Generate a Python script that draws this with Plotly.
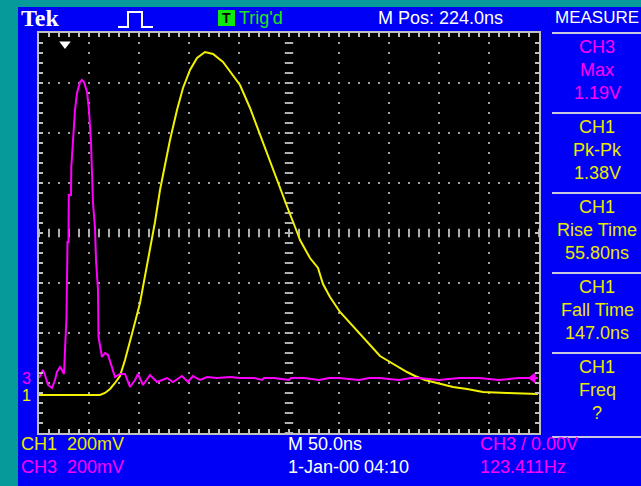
import numpy as np
import plotly.graph_objects as go

W, H = 641, 486

# ---- data (time in ns from left edge of graticule, volts) ----
ch1_t = [0, 21, 41, 61, 66, 71, 76, 81, 86, 91, 94, 101, 106, 111, 116, 121, 126, 131, 138, 144,
         151, 158, 166, 174, 184, 194, 201, 211, 221, 231, 241, 249, 258, 261, 271, 279, 284, 291,
         301, 311, 321, 331, 341, 351, 361, 368, 376, 386, 398, 414, 428, 444, 468, 499]
ch1_v = [0, 0, 0, 0, 0.008, 0.024, 0.048, 0.076, 0.14, 0.212, 0.26, 0.368, 0.472, 0.58, 0.692,
         0.82, 0.928, 1.02, 1.14, 1.228, 1.3, 1.348, 1.372, 1.364, 1.332, 1.276, 1.24, 1.148, 1.04,
         0.932, 0.832, 0.744, 0.652, 0.62, 0.548, 0.508, 0.444, 0.392, 0.332, 0.288, 0.24, 0.196,
         0.156, 0.132, 0.108, 0.092, 0.076, 0.06, 0.048, 0.032, 0.024, 0.012, 0.008, 0.004]

ch3_t = [0, 2, 4, 6, 9, 13, 16, 18, 21, 23, 25, 26, 27.5, 28.5, 29.5, 29.8, 32, 32.3, 34, 36, 38,
         41, 43, 45, 48, 50, 52, 53, 54, 56, 57, 59, 59.5, 63, 66, 69, 73, 76, 81, 86, 91, 96, 99,
         104, 111, 118, 128, 134, 143, 149, 154, 161, 168, 178, 191, 201, 215, 223, 225, 235, 250,
         252, 265, 280, 290, 300, 320, 330, 340, 360, 372, 380, 400, 420, 440, 460, 480, 499]
ch3_v = [0, 0.016, 0.032, 0.012, -0.028, -0.04, -0.008, 0.024, 0.044, 0.032, 0.016, 0.112, 0.244,
         0.544, 0.544, 0.732, 0.732, 0.844, 0.964, 1.072, 1.14, 1.184, 1.192, 1.184, 1.144, 1.072,
         0.94, 0.832, 0.7, 0.6, 0.472, 0.352, 0.164, 0.084, 0.1, 0.092, 0.044, 0.004, 0.016, 0.016,
         -0.036, -0.008, 0.016, -0.028, 0.012, -0.016, 0, -0.016, 0.008, -0.016, 0.008, -0.008,
         0.004, 0, 0.004, 0, 0, -0.008, 0, 0, -0.008, 0, 0, -0.008, 0, 0, -0.008, 0, 0, -0.008, 0,
         0, -0.008, 0, 0, -0.008, 0, 0]

ch1_vdiv, ch3_vdiv = 0.2, 0.2          # V/div
ch1_pos, ch3_pos = -3.24, -2.9         # ground position (div)
trig_t = 26                            # trigger marker position (ns from left)

top_texts = {"mpos": "M Pos: 224.0ns", "trig": "Trig'd", "measure": "MEASURE"}
measure = [("CH3", "Max", "1.19V", "#FF00FF"),
           ("CH1", "Pk-Pk", "1.38V", "#E8E800"),
           ("CH1", "Rise Time", "55.80ns", "#E8E800"),
           ("CH1", "Fall Time", "147.0ns", "#E8E800"),
           ("CH1", "Freq", "?", "#E8E800")]

YEL = "#F2F200"
MAG = "#FF00FF"
BLUE = "#0000F6"
TEAL = "#069A9A"
FONT = "Liberation Sans Narrow, Liberation Sans, sans-serif"

def px(x):
    return x / W

def py(y):
    return 1 - y / H

fig = go.Figure()

# graticule dots
gx, gy = [], []
for k in [1, 2, 3, 4, 6, 7, 8, 9]:
    for d in np.arange(-4, 4.001, 0.2):
        gx.append(50 * k); gy.append(d)
for k in [-3, -2, -1, 1, 2, 3]:
    for t in np.arange(0, 500.1, 10):
        gx.append(t); gy.append(k)
fig.add_trace(go.Scatter(x=gx, y=gy, mode="markers", hoverinfo="skip",
                         marker=dict(symbol="square", size=2, color="#A0A0A0", line=dict(width=0))))
# centre line dashes
cy = list(np.arange(-4, 4.001, 0.2))
fig.add_trace(go.Scatter(x=[250] * len(cy), y=cy, mode="markers", hoverinfo="skip",
                         marker=dict(symbol="line-ew", size=6, line=dict(width=2, color="#B0B0B0"))))
cx = list(np.arange(0, 500.1, 10))
fig.add_trace(go.Scatter(x=cx, y=[0] * len(cx), mode="markers", hoverinfo="skip",
                         marker=dict(symbol="line-ns", size=6, line=dict(width=2, color="#B0B0B0"))))

# traces
fig.add_trace(go.Scatter(x=ch1_t, y=[v / ch1_vdiv + ch1_pos for v in ch1_v], mode="lines",
                         line=dict(color=YEL, width=2), hoverinfo="skip"))
fig.add_trace(go.Scatter(x=ch3_t, y=[v / ch3_vdiv + ch3_pos for v in ch3_v], mode="lines",
                         line=dict(color=MAG, width=2), hoverinfo="skip"))

# markers: trigger pos, trigger level, ground refs
fig.add_trace(go.Scatter(x=[trig_t], y=[3.78], mode="markers", cliponaxis=False, hoverinfo="skip",
                         marker=dict(symbol="triangle-down", size=10, color="white", line=dict(width=0))))
fig.add_trace(go.Scatter(x=[494], y=[ch3_pos], mode="markers", cliponaxis=False, hoverinfo="skip",
                         marker=dict(symbol="triangle-left", size=10, color=MAG, line=dict(width=0))))
fig.add_trace(go.Scatter(x=[-4, -4], y=[ch1_pos, ch3_pos], mode="markers", cliponaxis=False,
                         hoverinfo="skip",
                         marker=dict(symbol="triangle-right", size=7, color=[YEL, MAG], line=dict(width=0))))

ax = dict(showgrid=False, zeroline=False, showline=True, linecolor="#C0C0C0", linewidth=2,
          mirror="ticks", ticks="inside", ticklen=4, tickwidth=2, tickcolor="#C0C0C0",
          showticklabels=False, fixedrange=True)
fig.update_xaxes(range=[0, 500], dtick=10, tick0=0, domain=[px(39), px(539)], **ax)
fig.update_yaxes(range=[-4, 4], dtick=0.2, tick0=0, domain=[py(433), py(33)], **ax)

shapes = [
    dict(type="rect", xref="paper", yref="paper", x0=0, x1=px(18), y0=0, y1=1,
         fillcolor=TEAL, line=dict(width=0), layer="below"),
    dict(type="rect", xref="paper", yref="paper", x0=0, x1=1, y0=py(7), y1=1,
         fillcolor=TEAL, line=dict(width=0), layer="below"),
    dict(type="path", xref="paper", yref="paper",
         path=f"M {px(118)} {py(27)} L {px(128)} {py(27)} L {px(128)} {py(12)} L {px(142)} {py(12)} "
              f"L {px(142)} {py(27)} L {px(153)} {py(27)}",
         line=dict(color="white", width=2)),
    dict(type="rect", xref="paper", yref="paper", x0=px(218), x1=px(235), y0=py(26), y1=py(10),
         fillcolor="#10E810", line=dict(width=0)),
]
for ly in [33, 113, 193, 273, 353, 437]:
    shapes.append(dict(type="line", xref="paper", yref="paper", x0=px(552), x1=1, y0=py(ly), y1=py(ly),
                       line=dict(color="#C8C8E0", width=2)))

ann = []
def txt(x, y, s, color, size=18, anchor="left", family=FONT, bold=False):
    ann.append(dict(x=px(x), y=py(y), xref="paper", yref="paper", text=f"<b>{s}</b>" if bold else s,
                    showarrow=False, xanchor=anchor, yanchor="middle",
                    font=dict(family=family, size=size, color=color)))

txt(19, 18, "Tek", "white", size=24, family="Liberation Serif, DejaVu Serif, serif", bold=True)
txt(226.5, 18, "T", "black", size=14, anchor="center", family="Liberation Sans, sans-serif", bold=True)
txt(237, 18, top_texts["trig"], "#20E820")
txt(376, 18, top_texts["mpos"], "white")
txt(597, 18, top_texts["measure"], "white", size=17, anchor="center")

for i, (a, b, c, col) in enumerate(measure):
    y0 = 47 + 80 * i
    txt(597, y0, a, col, anchor="center")
    txt(597, y0 + 23, b, col, anchor="center")
    txt(597, y0 + 46, c, col, anchor="center")

txt(19, 444, "CH1", "#E8E800")
txt(65, 444, "200mV", "#E8E800")
txt(286, 444, "M 50.0ns", "white")
txt(478, 444, "CH3 / 0.00V", MAG)
txt(19, 467, "CH3", MAG)
txt(65, 467, "200mV", MAG)
txt(286, 467, "1-Jan-00 04:10", "white")
txt(478, 467, "123.411Hz", MAG)
txt(20, 395, "1", YEL, size=16)
txt(20, 378, "3", MAG, size=16)

fig.update_layout(width=W, height=H, margin=dict(l=0, r=0, t=0, b=0), showlegend=False,
                  paper_bgcolor=BLUE, plot_bgcolor="black", shapes=shapes, annotations=ann)

fig.write_html("out.html", config={"displayModeBar": False, "staticPlot": True},
               post_script="document.body.style.margin='0';document.body.style.padding='0';"
                           "document.body.style.overflow='hidden';")
